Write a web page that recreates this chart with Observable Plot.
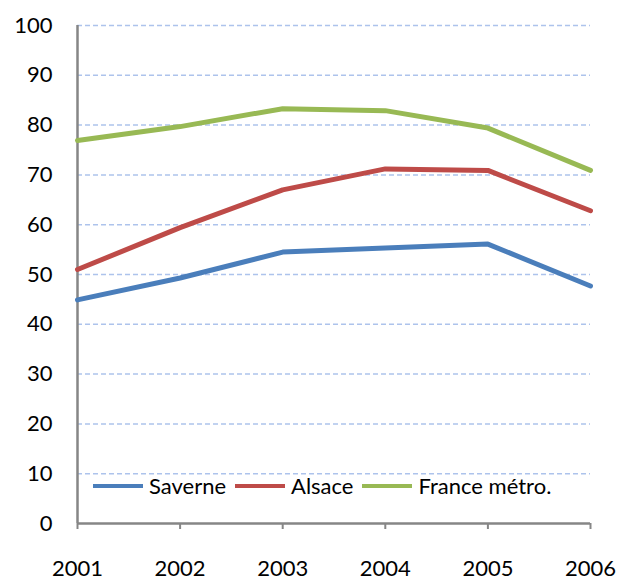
<!DOCTYPE html>
<html>
<head>
<meta charset="utf-8">
<script src="https://cdn.jsdelivr.net/npm/d3@7"></script>
<script src="https://cdn.jsdelivr.net/npm/@observablehq/plot@0.6"></script>
<style>
  html, body { margin: 0; padding: 0; background: #fff; }
  #wrap { position: relative; width: 621px; height: 583px; }
  #legend { position: absolute; left: 93px; top: 472px; font-family: Lato, "Open Sans", sans-serif; font-size: 22px; color: #000; display: flex; align-items: center; white-space: nowrap; }
  #legend .sw { display: inline-block; width: 50px; height: 4px; margin-right: 6px; }
  #legend .it { display: flex; align-items: center; margin-right: 9px; }
</style>
</head>
<body>
<div id="wrap"><div id="legend"></div></div>
<script>
const years = [2001, 2002, 2003, 2004, 2005, 2006];
const saverne = [44.9, 49.3, 54.5, 55.3, 56.1, 47.7];
const alsace  = [51.0, 59.4, 67.0, 71.2, 70.9, 62.8];
const france  = [76.9, 79.7, 83.3, 82.9, 79.4, 70.9];
const seriesNames = ["Saverne", "Alsace", "France métro."];
const seriesColors = ["#4a7ebb", "#be4b48", "#98b954"];
const yTicks = [0, 10, 20, 30, 40, 50, 60, 70, 80, 90, 100];
const gridTicks = [10, 20, 30, 40, 50, 60, 70, 80, 90, 100];

const allValues = [saverne, alsace, france];
const rows = [];
seriesNames.forEach((name, i) => {
  years.forEach((yr, j) => rows.push({series: name, year: yr, value: allValues[i][j]}));
});

const chart = Plot.plot({
  width: 621,
  height: 583,
  marginLeft: 77,
  marginRight: 31,
  marginTop: 25,
  marginBottom: 60,
  style: { fontFamily: "Lato, 'Open Sans', sans-serif", fontSize: "22px", color: "#000", background: "#fff" },
  x: { domain: [2001, 2006], ticks: years, tickFormat: d => String(d), label: null },
  y: { domain: [0, 100], ticks: yTicks, label: null },
  color: { domain: seriesNames, range: seriesColors },
  marks: [
    Plot.ruleY(gridTicks, { stroke: "#adc3ec", strokeWidth: 1.5, strokeDasharray: "5,3" }),
    Plot.axisY({ ticks: yTicks, tickSize: 0, tickPadding: 25, fontSize: 22, label: null, tickFormat: d => String(d) }),
    Plot.axisX({ ticks: years, tickSize: 6, tickPadding: 31, fontSize: 22, label: null, stroke: "#868686", strokeWidth: 2, tickFormat: d => String(d) }),
    Plot.ruleX([2001], { stroke: "#868686", strokeWidth: 2.5 }),
    Plot.ruleY([0], { stroke: "#868686", strokeWidth: 2.5 }),
    Plot.line(rows, { x: "year", y: "value", z: "series", stroke: "series", strokeWidth: 5, strokeLinecap: "round", strokeLinejoin: "round" })
  ]
});
document.getElementById("wrap").prepend(chart);

const legend = document.getElementById("legend");
seriesNames.forEach((name, i) => {
  const it = document.createElement("div");
  it.className = "it";
  const sw = document.createElement("span");
  sw.className = "sw";
  sw.style.background = seriesColors[i];
  const tx = document.createElement("span");
  tx.textContent = name;
  it.appendChild(sw); it.appendChild(tx);
  legend.appendChild(it);
});
</script>
</body>
</html>
